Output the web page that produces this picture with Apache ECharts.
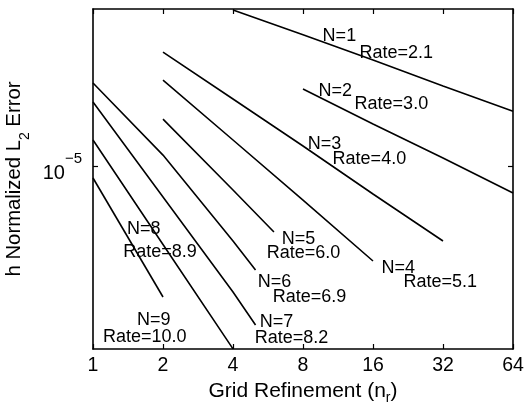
<!DOCTYPE html>
<html><head><meta charset="utf-8">
<script src="https://cdn.jsdelivr.net/npm/echarts@6/dist/echarts.min.js"></script>
<style>html,body{margin:0;padding:0;background:#fff}#c{width:525px;height:404px}</style>
</head><body><div id="c"></div>
<script>
// Tick values
const xTicks = [1, 2, 4, 8, 16, 32, 64];
const yTicks = [1e-5];
const yRange = [2.18e-10, 1e-1];

// Series: [grid refinement n_r, h-normalized L2 error]
const N1 = [[4, 9.4e-2], [8, 2.2e-2], [16, 5.0e-3], [32, 1.1e-3], [64, 2.5e-4]];
const N2 = [[8, 9.2e-4], [16, 1.17e-4], [32, 1.6e-5], [64, 2.05e-6]];
const N3 = [[2, 8.0e-3], [4, 5.1e-4], [8, 3.24e-5], [16, 1.94e-6], [32, 1.23e-7]];
const N4 = [[2, 1.55e-3], [4, 4.6e-5], [8, 1.36e-6], [16, 3.8e-8]];
const N5 = [[2, 1.57e-4], [4, 2.45e-6], [6, 2.08e-7]];
const N6 = [[1, 1.3e-3], [2, 1.9e-5], [4, 1.23e-7], [5, 2.24e-8]];
const N7 = [[1, 4.28e-4], [2, 1.62e-6], [4, 6.2e-9], [5, 8.9e-10]];
const N8 = [[1, 4.6e-5], [2, 1.0e-7], [4, 2.2e-10]];
const N9 = [[1, 4.95e-6], [2, 4.6e-9]];

// Annotations (text anchors in data coordinates)
const orders = [1, 2, 3, 4, 5, 6, 7, 8, 9];
const rates = ['2.1', '3.0', '4.0', '5.1', '6.0', '6.9', '8.2', '8.9', '10.0'];
const orderLabelAt = [[9.72, 1.99e-2], [9.34, 8.15e-4], [8.38, 3.64e-5], [17.42, 2.45e-8], [6.48, 1.38e-7], [5.11, 1.08e-8], [5.21, 1.06e-9], [1.40, 2.48e-7], [1.545, 1.16e-9]];
const rateLabelAt = [[14.0, 7.57e-3], [13.34, 3.69e-4], [10.73, 1.47e-5], [21.66, 1.08e-8], [5.59, 5.9e-8], [5.93, 4.6e-9], [4.96, 4.15e-10], [1.35, 6.44e-8], [1.104, 4.28e-10]];

const allSeries = [N1, N2, N3, N4, N5, N6, N7, N8, N9];
const FONT = 'Liberation Sans, Arial, Helvetica, sans-serif';
const TXT = '#000';
const pt = (p) => [Math.log2(p[0]), Math.log10(p[1])];

const chart = echarts.init(document.getElementById('c'), null, {renderer: 'canvas'});

const axisLine = {show: true, onZero: false, lineStyle: {color: '#000', width: 1.6}};
const tickStyle = {color: '#000', width: 1.2};

const series = allSeries.map((s, i) => ({
  name: 'N=' + orders[i],
  type: 'line',
  data: s.map(pt),
  symbol: 'none',
  showSymbol: false,
  clip: true,
  lineStyle: {color: '#000', width: 1.6},
  silent: true,
  animation: false,
  z: 3
}));

function labelSeries(anchors, texts) {
  return {
    type: 'scatter',
    data: anchors.map((p, i) => ({value: pt(p), name: texts[i]})),
    symbol: 'circle',
    symbolSize: 0.1,
    itemStyle: {color: 'transparent'},
    silent: true,
    animation: false,
    clip: false,
    z: 5,
    label: {
      show: true,
      formatter: '{b}',
      position: [0, 0],
      align: 'left',
      verticalAlign: 'middle',
      color: TXT,
      opacity: 1,
      textBorderWidth: 0,
      fontFamily: FONT,
      fontSize: 18
    }
  };
}
series.push(labelSeries(orderLabelAt, orders.map(n => 'N=' + n)));
series.push(labelSeries(rateLabelAt, rates.map(r => 'Rate=' + r)));

const xMin = Math.log2(xTicks[0]), xMax = Math.log2(xTicks[xTicks.length - 1]);
const yMin = Math.log10(yRange[0]), yMax = Math.log10(yRange[1]);
const yTickVals = yTicks.map(v => Math.log10(v));

chart.setOption({
  backgroundColor: '#fff',
  animation: false,
  grid: {left: 93, right: 12, top: 9, bottom: 55, containLabel: false, outerBoundsMode: 'none'},
  xAxis: [{
    type: 'value', min: xMin, max: xMax, interval: 1, position: 'bottom',
    axisLine: axisLine,
    axisTick: {show: true, inside: true, length: 5, lineStyle: tickStyle},
    splitLine: {show: false},
    axisLabel: {
      show: true, margin: 7, color: TXT, fontFamily: FONT, fontSize: 19.5, lineHeight: 20,
      showMinLabel: true, showMaxLabel: true,
      formatter: (v) => String(xTicks[Math.round(v - xMin)])
    },
    name: '{t|Grid Refinement (n}{s|r}{t|)}',
    nameLocation: 'middle',
    nameGap: 31,
    nameTextStyle: {
      rich: {
        t: {fontFamily: FONT, fontSize: 21, lineHeight: 21, verticalAlign: 'top', color: TXT},
        s: {fontFamily: FONT, fontSize: 14, lineHeight: 35, verticalAlign: 'middle', color: TXT}
      }
    }
  }, {
    type: 'value', min: xMin, max: xMax, interval: 1, position: 'top',
    axisLine: axisLine,
    axisTick: {show: true, inside: true, length: 5, lineStyle: tickStyle},
    splitLine: {show: false},
    axisLabel: {show: false}
  }],
  yAxis: [{
    type: 'value', min: yMin, max: yMax, position: 'left',
    axisLine: axisLine,
    axisTick: {show: true, inside: true, length: 5, lineStyle: tickStyle, customValues: yTickVals},
    splitLine: {show: false},
    axisLabel: {
      show: true, margin: 11, customValues: yTickVals, padding: [3, 0, 0, 0],
      formatter: (v) => '{b|10}{s|' + (v < 0 ? '\u2212' : '') + Math.abs(Math.round(v)) + '}',
      rich: {
        b: {fontFamily: FONT, fontSize: 20, lineHeight: 32, verticalAlign: 'bottom', color: TXT},
        s: {fontFamily: FONT, fontSize: 15, lineHeight: 15, verticalAlign: 'top', color: TXT}
      }
    },
    name: '{t|h Normalized L}{s|2}{t| Error}',
    nameLocation: 'middle',
    nameGap: 40,
    nameTextStyle: {
      rich: {
        t: {fontFamily: FONT, fontSize: 20.3, lineHeight: 21, verticalAlign: 'top', color: TXT},
        s: {fontFamily: FONT, fontSize: 14, lineHeight: 41, verticalAlign: 'middle', color: TXT}
      }
    }
  }, {
    type: 'value', min: yMin, max: yMax, position: 'right',
    axisLine: axisLine,
    axisTick: {show: true, inside: true, length: 5, lineStyle: tickStyle, customValues: yTickVals},
    splitLine: {show: false},
    axisLabel: {show: false}
  }],
  series: series
});
</script>
</body></html>
